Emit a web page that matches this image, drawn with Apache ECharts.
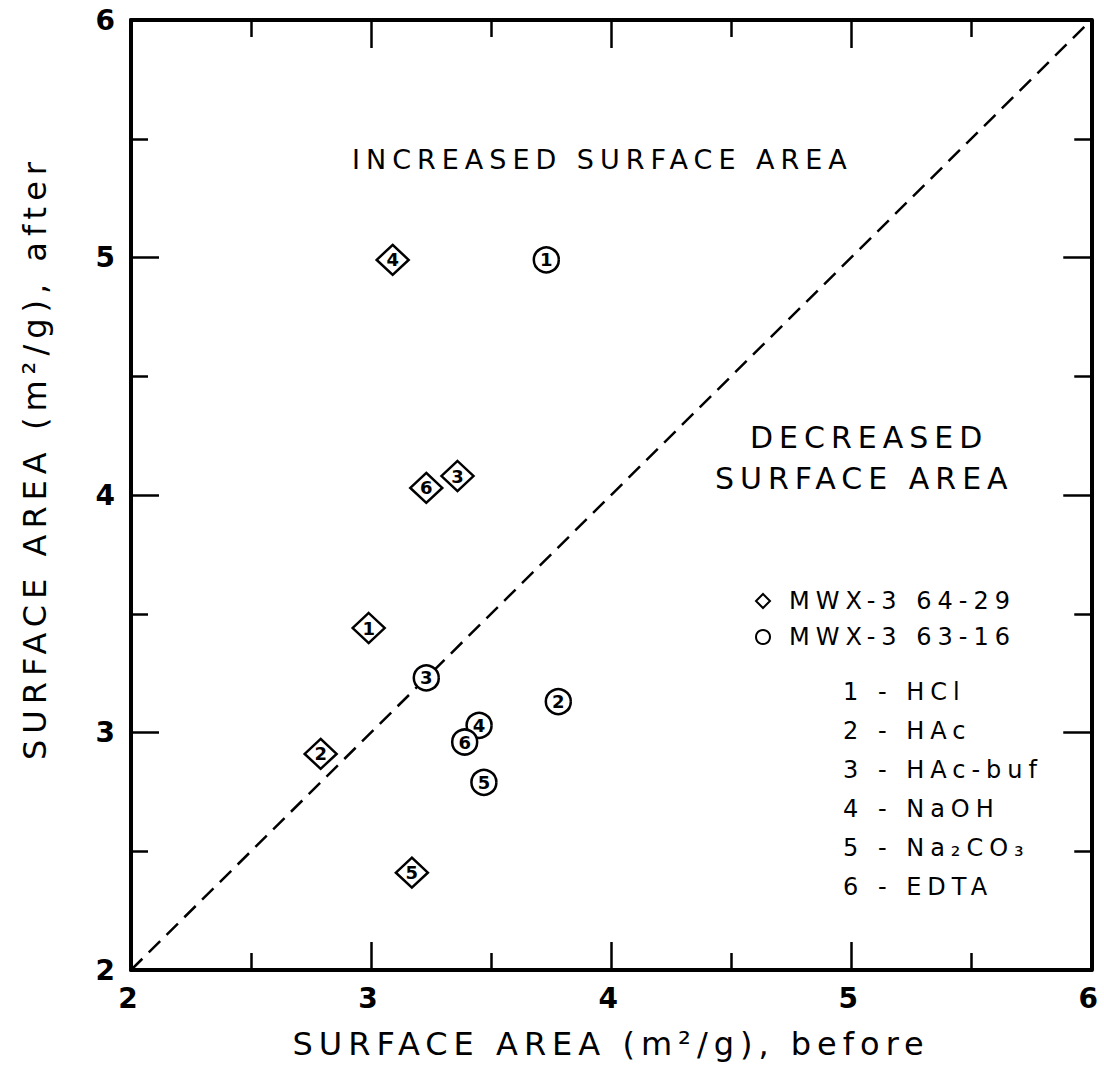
<!DOCTYPE html>
<html>
<head>
<meta charset="utf-8">
<script src="https://cdn.jsdelivr.net/npm/echarts@6/dist/echarts.min.js"></script>
<style>
  html, body { margin: 0; padding: 0; background: #fff; }
  #main { width: 1104px; height: 1080px; }
  #main svg text { letter-spacing: 6px; }
</style>
</head>
<body>
<div id="main"></div>
<script>
// surface area before / after treatment
var diamondBefore = [2.99, 2.79, 3.36, 3.09, 3.17, 3.23];
var diamondAfter  = [3.44, 2.91, 4.08, 4.99, 2.41, 4.03];
var circleBefore  = [3.73, 3.78, 3.23, 3.45, 3.47, 3.39];
var circleAfter   = [4.99, 3.13, 3.23, 3.03, 2.79, 2.96];
var treatmentIds  = [1, 2, 3, 4, 5, 6];
var treatments    = ['HCl', 'HAc', 'HAc-buf', 'NaOH', 'Na₂CO₃', 'EDTA'];
var sampleNames   = ['MWX-3 64-29', 'MWX-3 63-16'];
var axisTicks     = [2, 3, 4, 5, 6];
var diagonal      = [[2, 2], [6, 6]];

var font = 'DejaVu Sans';

function pairs(xs, ys) {
    return xs.map(function(x, i) { return [x, ys[i], treatmentIds[i]]; });
}

var myChart = echarts.init(document.getElementById('main'), null, { renderer: 'svg' });

function makeAxis(pos, showLabel, name) {
    return {
        type: 'value',
        position: pos,
        min: axisTicks[0],
        max: axisTicks[axisTicks.length - 1],
        interval: 1,
        name: name,
        nameLocation: 'middle',
        nameGap: pos === 'bottom' ? 58 : 80,
        nameTextStyle: {
            fontFamily: font, fontSize: 32, color: '#000',
            padding: pos === 'left' ? [0, 0, 0, 74] : 0
        },
        axisLine: { onZero: false, lineStyle: { color: '#000', width: 4 } },
        axisTick: { inside: true, length: 28, lineStyle: { color: '#000', width: 2.5 } },
        minorTick: { show: true, splitNumber: 2, length: 17, lineStyle: { color: '#000', width: 2.5 } },
        axisLabel: {
            show: showLabel, margin: pos === 'left' ? 10 : 14,
            fontFamily: font, fontSize: 28, fontWeight: 'bold', color: '#000'
        },
        splitLine: { show: false }
    };
}

var labelStyle = {
    show: true,
    position: 'inside',
    formatter: function(p) { return p.value[2]; },
    fontFamily: font,
    fontSize: 18,
    fontWeight: 'bold',
    color: '#000',
    padding: [0, 0, 0, 6]
};

var graphics = treatments.map(function(t, i) {
    return {
        type: 'text',
        left: 843,
        top: 680 + i * 39,
        style: {
            text: treatmentIds[i] + ' - ' + t,
            fontFamily: font,
            fontSize: 24,
            fill: '#000'
        }
    };
});
graphics.push({
    type: 'text', left: 352, top: 146,
    style: { text: 'INCREASED SURFACE AREA', fontFamily: font, fontSize: 27, fill: '#000' }
});
graphics.push({
    type: 'text', left: 750, top: 422,
    style: { text: 'DECREASED', fontFamily: font, fontSize: 30, fill: '#000' }
});
graphics.push({
    type: 'text', left: 715, top: 463,
    style: { text: 'SURFACE AREA', fontFamily: font, fontSize: 30, fill: '#000' }
});

option = {
    backgroundColor: '#fff',
    animation: false,
    grid: { left: 131, right: 11, top: 20, bottom: 110 },
    xAxis: [
        makeAxis('bottom', true, 'SURFACE AREA (m²/g), before'),
        makeAxis('top', false, '')
    ],
    yAxis: [
        makeAxis('left', true, 'SURFACE AREA (m²/g), after'),
        makeAxis('right', false, '')
    ],
    legend: {
        data: sampleNames,
        orient: 'vertical',
        left: 750,
        top: 584,
        itemGap: 12,
        itemWidth: 14,
        itemHeight: 14,
        textStyle: { fontFamily: font, fontSize: 24, color: '#000', padding: [0, 0, 0, 14] }
    },
    graphic: graphics,
    series: [
        {
            type: 'line',
            data: diagonal,
            symbol: 'none',
            silent: true,
            z: 1,
            lineStyle: { color: '#000', width: 2.5, type: [16, 9] }
        },
        {
            name: sampleNames[0],
            type: 'scatter',
            symbol: 'diamond',
            symbolSize: [32, 30],
            data: pairs(diamondBefore, diamondAfter),
            itemStyle: { color: '#fff', borderColor: '#000', borderWidth: 2.5, opacity: 1 },
            label: labelStyle,
            z: 3
        },
        {
            name: sampleNames[1],
            type: 'scatter',
            symbol: 'circle',
            symbolSize: 25,
            data: pairs(circleBefore, circleAfter),
            itemStyle: { color: '#fff', borderColor: '#000', borderWidth: 2.5, opacity: 1 },
            label: labelStyle,
            z: 3
        }
    ]
};

option && myChart.setOption(option);
</script>
</body>
</html>
